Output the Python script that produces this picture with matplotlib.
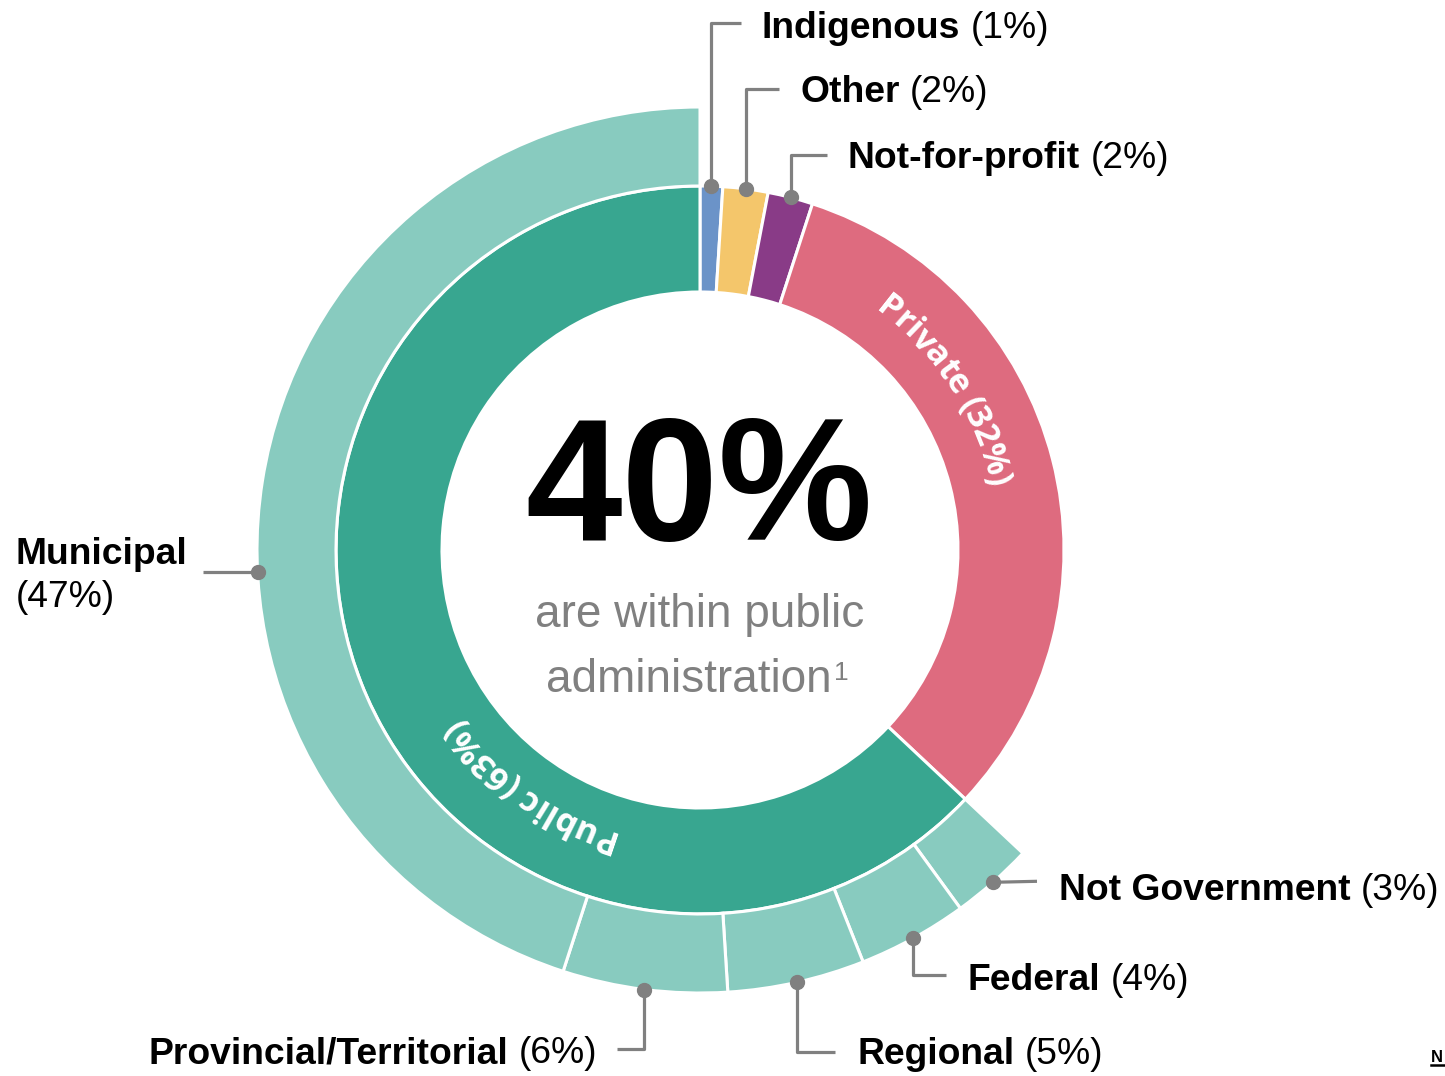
import numpy as np
import matplotlib
matplotlib.use("Agg")
import matplotlib.pyplot as plt
from matplotlib.font_manager import FontProperties, findfont, get_font

plt.rcParams['font.family'] = ['Liberation Sans', 'DejaVu Sans']

# inner ring, clockwise from 12 o'clock
sectors = ["Indigenous", "Other", "Not-for-profit", "Private", "Public"]
sector_pct = [1, 2, 2, 32, 63]
sector_colors = ["#6b93c8", "#f4c66b", "#893b87", "#de6b7f", "#38a690"]

# outer ring: split of the public share, clockwise (percent of all)
gov_levels = ["Not Government", "Federal", "Regional", "Provincial/Territorial", "Municipal"]
gov_pct = [3, 4, 5, 6, 47]
gov_color = "#88cbbf"

headline = "40%"
subline = ["are within public", "administration", "1"]

W, H = 1445, 1076
cx, cy = 700, 550
r1, w1 = 364, 106      # inner ring
r2, w2 = 443, 79       # outer ring
grey = "#808080"

fig = plt.figure(figsize=(W / 100, H / 100), dpi=100)
ax = fig.add_axes([0, 0, 1, 1])

# y axis is flipped, so counterclock in data = clockwise on screen
ax.pie(sector_pct, radius=r1, center=(cx, cy), startangle=-90, counterclock=True,
       colors=sector_colors, wedgeprops=dict(width=w1, edgecolor="white", linewidth=2.2))

public = sector_pct[-1]
rest = sum(sector_pct) - public
# segments drawn at their own share; the last one fills what is left of the ring
outer_vals = [rest] + gov_pct[:-1] + [100 - rest - sum(gov_pct[:-1])]
wedges, _ = ax.pie(outer_vals, radius=r2, center=(cx, cy), startangle=-90, counterclock=True,
                   colors=["none"] + [gov_color] * len(gov_pct),
                   wedgeprops=dict(width=w2, edgecolor="white", linewidth=2.2))
wedges[0].set_visible(False)

ax.set_xlim(0, W)
ax.set_ylim(H, 0)
ax.set_aspect("equal")
ax.axis("off")


def polar(theta, r):
    t = np.radians(theta)
    return cx + r * np.sin(t), cy - r * np.cos(t)


def mids(vals):
    c = np.cumsum([0] + list(vals))[:-1]
    return [360 * (a + v / 2) / 100 for a, v in zip(c, vals)]


inner_mid = mids(sector_pct)
outer_mid = mids(outer_vals)[1:]

fs = 26.8
renderer = fig.canvas.get_renderer()
space = 0.278 * fs * 100 / 72


def label(x, y, bold, pct, ha="left"):
    if ha == "left":
        t = ax.text(x, y, bold, fontsize=fs, fontweight="bold", va="baseline", ha="left")
        x1 = t.get_window_extent(renderer).x1
        ax.text(x1 + space, y, pct, fontsize=fs, va="baseline", ha="left")
    else:
        t = ax.text(x, y, pct, fontsize=fs, va="baseline", ha="right")
        x0 = t.get_window_extent(renderer).x0
        ax.text(x0 - space, y, bold, fontsize=fs, fontweight="bold", va="baseline", ha="right")


def leader(pts):
    xs, ys = zip(*pts)
    ax.plot(xs, ys, color=grey, lw=2.3, solid_capstyle="butt", zorder=3)
    ax.plot(xs[0], ys[0], "o", color=grey, ms=10, zorder=4)


# small sectors: up then right
for i, (ey, ex, tx, ty) in enumerate([(23, 741, 762, 37.5), (89, 779, 800, 102.5), (155, 827, 848, 168)]):
    dx, dy = polar(inner_mid[i], r1)
    leader([(dx, dy), (dx, ey), (ex, ey)])
    label(tx, ty, sectors[i], f"({sector_pct[i]}%)")

# Not Government
dx, dy = polar(outer_mid[0], r2)
leader([(dx, dy), (1037, dy - 1)])
label(1059, 900, gov_levels[0], f"({gov_pct[0]}%)")

# Federal, Regional
for i, (ey, ex, tx, ty) in [(1, (975, 946, 968, 990)), (2, (1052, 835, 857, 1064))]:
    dx, dy = polar(outer_mid[i], r2)
    leader([(dx, dy), (dx, ey), (ex, ey)])
    label(tx, ty, gov_levels[i], f"({gov_pct[i]}%)")

# Provincial/Territorial
dx, dy = polar(outer_mid[3], r2)
leader([(dx, dy), (dx, 1049), (617, 1049)])
label(597, 1063, gov_levels[3], f"({gov_pct[3]}%)", ha="right")

# Municipal
my = 572
mx = cx - np.sqrt(r2 ** 2 - (my - cy) ** 2)
leader([(mx, my), (203, my)])
ax.text(16, 564, gov_levels[4], fontsize=fs, fontweight="bold", va="baseline")
ax.text(16, 607, f"({gov_pct[4]}%)", fontsize=fs, va="baseline")


def arc_text(s, theta_c, r_base, size):
    fp = FontProperties(family="Open Sans", weight="bold", size=size)
    font = get_font(findfont(fp))
    font.set_size(size, 100)
    adv = [font.load_char(ord(ch)).linearHoriAdvance / 65536 for ch in s]
    total = sum(adv)
    pos = np.cumsum([0] + adv)[:-1] + np.array(adv) / 2 - total / 2
    r_arc = r_base + 10
    for ch, p in zip(s, pos):
        th = theta_c + np.degrees(p / r_arc)
        x, y = polar(th, r_base)
        ax.text(x, y, ch, fontproperties=fp, color="white", rotation=-th,
                rotation_mode="anchor", ha="center", va="baseline")


arc_text(f"{sectors[3]} ({sector_pct[3]}%)", 57, 297, 24.5)
arc_text(f"{sectors[4]} ({sector_pct[4]}%)", 216, 294, 24.5)

# centre
ax.text(cx - 1, 540, headline, fontsize=125, fontweight="bold", ha="center", va="baseline")
ax.text(cx, 627, subline[0], fontsize=33, color=grey, ha="center", va="baseline")
t = ax.text(546, 692, subline[1], fontsize=33, color=grey, ha="left", va="baseline")
x1 = t.get_window_extent(renderer).x1
ax.text(x1 + 2, 680, subline[2], fontsize=19, color=grey, ha="left", va="baseline")

# cut-off link at the corner
ax.text(1431, 1062, "N", fontsize=12, fontweight="bold", va="baseline")
ax.plot([1431, W], [1064.5, 1064.5], color="black", lw=1.8)

fig.savefig("out.png", dpi=100)
